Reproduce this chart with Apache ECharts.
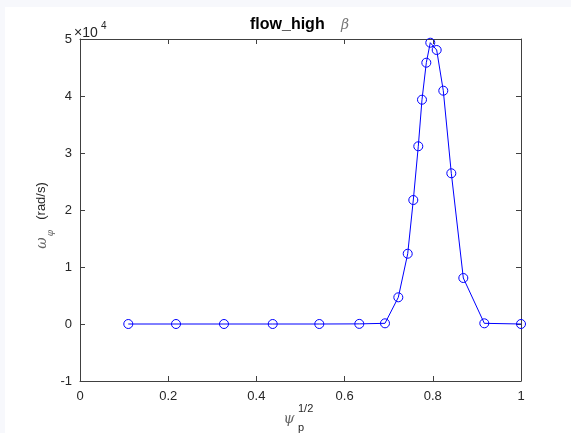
<!DOCTYPE html>
<html>
<head>
<meta charset="utf-8">
<script src="https://cdn.jsdelivr.net/npm/echarts@6/dist/echarts.min.js"></script>
<style>
html,body{margin:0;padding:0;background:#fff;}
#chart{width:571px;height:433px;}
</style>
</head>
<body>
<div id="chart"></div>
<script>
// Data
var psi = [0.1095, 0.2177, 0.3265, 0.437, 0.5426, 0.6333, 0.6916, 0.7218, 0.7431, 0.7558,
           0.7671, 0.7755, 0.7853, 0.7943, 0.8088, 0.8238, 0.8420, 0.8692, 0.9168, 1.0];
var omega = [0, 0, 0, 0, 0, 20, 120, 4680, 12330, 21750,
             31180, 39350, 45840, 49350, 48070, 40930, 26440, 8070, 120, 0];
var xTicks = [0, 0.2, 0.4, 0.6, 0.8, 1];
var yTicks = [-1, 0, 1, 2, 3, 4, 5];
var yScale = 1e4;

var FONT = '"Liberation Sans", Arial, Helvetica, sans-serif';
var AX = '#404040';
var TXT = '#262626';

var pts = psi.map(function (x, i) { return [x, omega[i]]; });

function axisCommon(showLabel, fmt) {
  return {
    axisLine: { show: true, onZero: false, lineStyle: { color: AX, width: 1 } },
    axisTick: { show: true, inside: true, length: 5, lineStyle: { color: AX, width: 1 } },
    axisLabel: { show: showLabel, color: TXT, fontSize: 13, fontFamily: FONT, formatter: fmt },
    splitLine: { show: false }
  };
}

var xMin = xTicks[0], xMax = xTicks[xTicks.length - 1], xInt = xTicks[1] - xTicks[0];
var yMin = yTicks[0] * yScale, yMax = yTicks[yTicks.length - 1] * yScale, yInt = (yTicks[1] - yTicks[0]) * yScale;

var xFmt = function (v) { return String(+v.toFixed(1)); };
var yFmt = function (v) { return String(Math.round(v / yScale)); };

var chart = echarts.init(document.getElementById('chart'), null, { renderer: 'canvas' });
var option = {
  animation: false,
  backgroundColor: '#ffffff',
  grid: { left: 80, right: 50, top: 39, bottom: 52, containLabel: false },
  xAxis: [
    Object.assign({ type: 'value', position: 'bottom', min: xMin, max: xMax, interval: xInt }, axisCommon(true, xFmt), {
      axisLabel: { show: true, color: TXT, fontSize: 13, fontFamily: FONT, formatter: xFmt, margin: 9 }
    }),
    Object.assign({ type: 'value', position: 'top', min: xMin, max: xMax, interval: xInt }, axisCommon(false, xFmt))
  ],
  yAxis: [
    Object.assign({ type: 'value', position: 'left', min: yMin, max: yMax, interval: yInt }, axisCommon(true, yFmt), {
      axisLabel: { show: true, color: TXT, fontSize: 13, fontFamily: FONT, formatter: yFmt, margin: 8 }
    }),
    Object.assign({ type: 'value', position: 'right', min: yMin, max: yMax, interval: yInt }, axisCommon(false, yFmt))
  ],
  series: [{
    type: 'line',
    xAxisIndex: 0,
    yAxisIndex: 0,
    data: pts,
    clip: false,
    symbol: 'circle',
    symbolSize: 9,
    showAllSymbol: true,
    lineStyle: { color: '#0000ff', width: 1 },
    itemStyle: { color: 'rgba(255,255,255,0)', borderColor: '#0000ff', borderWidth: 1 }
  }],
  graphic: [
    { type: 'rect', z: -10, shape: { x: 0, y: 0, width: 571, height: 7 }, style: { fill: '#f7f8fc' }, silent: true },
    { type: 'rect', z: -10, shape: { x: 0, y: 0, width: 5, height: 433 }, style: { fill: '#f7f8fc' }, silent: true },
    // title
    { type: 'text', x: 250, y: 25, style: { text: 'flow_high', align: 'left', verticalAlign: 'middle', fontFamily: FONT, fontWeight: 'bold', fontSize: 16, fill: '#000' } },
    { type: 'text', x: 345, y: 25, style: { text: 'β', align: 'center', verticalAlign: 'middle', fontFamily: 'DejaVu Serif, serif', fontStyle: 'italic', fontSize: 14, fill: '#777' } },
    // ×10^4 exponent
    { type: 'text', x: 74, y: 33, style: { text: '×10', align: 'left', verticalAlign: 'middle', fontFamily: FONT, fontSize: 14, fill: TXT } },
    { type: 'text', x: 101, y: 26, style: { text: '4', align: 'left', verticalAlign: 'middle', fontFamily: FONT, fontSize: 10, fill: TXT } },
    // x axis label  ψ_p^{1/2}
    { type: 'text', x: 289, y: 419, style: { text: 'ψ', align: 'center', verticalAlign: 'middle', fontFamily: 'DejaVu Serif, serif', fontStyle: 'italic', fontSize: 14, fill: '#666' } },
    { type: 'text', x: 298, y: 409, style: { text: '1/2', align: 'left', verticalAlign: 'middle', fontFamily: FONT, fontSize: 11, fill: TXT } },
    { type: 'text', x: 298, y: 428, style: { text: 'p', align: 'left', verticalAlign: 'middle', fontFamily: FONT, fontSize: 11, fill: TXT } },
    // y axis label  ω_φ (rad/s)
    { type: 'text', x: 42, y: 243, rotation: Math.PI / 2, style: { text: 'ω', align: 'center', verticalAlign: 'middle', fontFamily: 'DejaVu Serif, serif', fontStyle: 'italic', fontSize: 14, fill: '#666' } },
    { type: 'text', x: 51, y: 233, rotation: Math.PI / 2, style: { text: 'φ', align: 'center', verticalAlign: 'middle', fontFamily: 'DejaVu Serif, serif', fontStyle: 'italic', fontSize: 9, fill: '#666' } },
    { type: 'text', x: 41, y: 201, rotation: Math.PI / 2, style: { text: '(rad/s)', align: 'center', verticalAlign: 'middle', fontFamily: FONT, fontSize: 13, fill: TXT } }
  ]
};
chart.setOption(option);
</script>
</body>
</html>
